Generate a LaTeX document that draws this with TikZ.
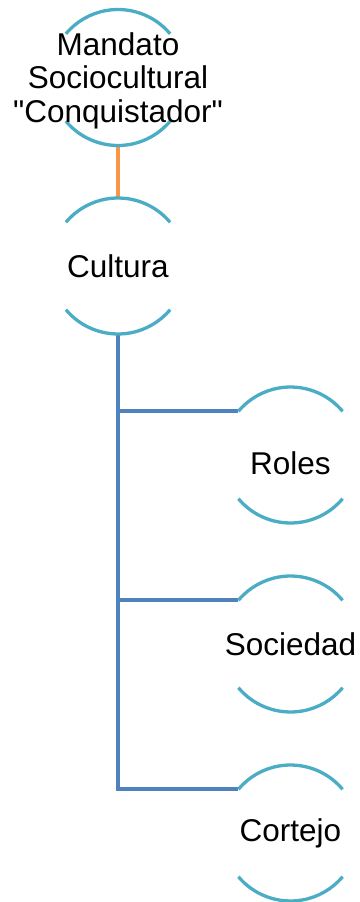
\documentclass[tikz,border=0pt]{standalone}
\usepackage{fontspec}
\setmainfont{Liberation Sans}
\usepackage{xcolor}
\usetikzlibrary{calc,backgrounds}
\colorlet{ringcolor}{rgb,255:red,75;green,172;blue,198}
\colorlet{linkcolor}{rgb,255:red,247;green,150;blue,70}
\colorlet{branchcolor}{rgb,255:red,79;green,129;blue,189}
\tikzstyle{bubble}=[inner sep=0pt,outer sep=0pt,align=center,font=\fontsize{31.5}{33.5}\selectfont]
\tikzstyle{ring}=[line width=3.3pt,ringcolor]
\tikzstyle{link}=[line width=4pt,linkcolor]
\tikzstyle{branch}=[line width=4pt,branchcolor]

\begin{document}
\begin{tikzpicture}[x=1pt,y=1pt]
	\useasboundingbox (0,0) rectangle (359,-902);
	\node[bubble,text depth=0pt] (root) at (118,-77.5) {Mandato\\Sociocultural\\\textquotedbl Conquistador\textquotedbl};
	\node[bubble] (cultura) at (118,-266) {Cultura};
	\node[bubble,text height=38.5pt,text depth=0pt] (roles) at (290.5,-455) {Roles};
	\node[bubble] (sociedad) at (290.5,-644) {Sociedad};
	\node[bubble] (cortejo) at (290.5,-833) {Cortejo};
	\begin{scope}[on background layer]
	\draw[link] ($(root)+(0,-68)$) -- ($(cultura)+(0,68)$);
	\foreach \n in {roles,sociedad,cortejo}
	  \draw[branch] ($(cultura)+(0,-68)$) |- ($(\n)+(140:68)$);
	\foreach \n in {root,cultura,roles,sociedad,cortejo} {
	  \draw[ring] ($(\n)+(40:68)$) arc[start angle=40,end angle=140,radius=68];
	  \draw[ring] ($(\n)+(220:68)$) arc[start angle=220,end angle=320,radius=68];
	}
	\end{scope}
\end{tikzpicture}
\end{document}
